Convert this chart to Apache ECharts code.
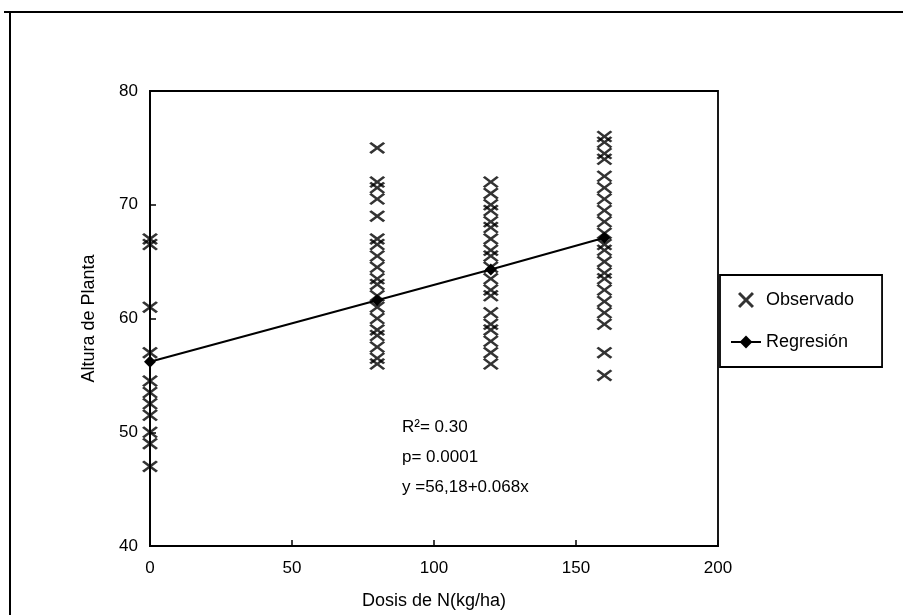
<!DOCTYPE html>
<html>
<head>
<meta charset="utf-8">
<script src="https://cdn.jsdelivr.net/npm/echarts@6/dist/echarts.min.js"></script>
<style>
html,body{margin:0;padding:0;background:#fff;}
#chart{width:903px;height:615px;}
</style>
</head>
<body>
<div id="chart"></div>
<script>
// ---- data ----
var doses = [0, 80, 120, 160];
var obs0   = [67, 66.5, 61, 57, 54.5, 53.5, 52.5, 51.5, 50, 49, 47];
var obs80  = [75, 72, 71.5, 70.5, 69, 67, 66.5, 65.5, 64.5, 63.5, 63, 62, 61, 60, 59, 58.5, 57.5, 56.5, 56];
var obs120 = [72, 71, 70, 69.5, 68.5, 68, 67, 66, 65.5, 64.5, 63.5, 62.5, 62, 60.5, 59.5, 59, 58, 57, 56];
var obs160 = [76, 75.5, 74.5, 74, 72.5, 71.5, 70.5, 69.5, 68.5, 67.5, 66.5, 66, 65, 64, 63.5, 62.5, 61.5, 60.5, 59.5, 57, 55];
var regValues = [56.2, 61.6, 64.3, 67.1];
var xTicks = [0, 50, 100, 150, 200];
var yTicks = [40, 50, 60, 70, 80];
var seriesNames = ['Observado', 'Regresión'];
var annotations = ['R²= 0.30', 'p= 0.0001', 'y =56,18+0.068x'];
var xTitle = 'Dosis de N(kg/ha)';
var yTitle = 'Altura de Planta';

// ---- build ----
var obsColumns = [obs0, obs80, obs120, obs160];
var obsData = [];
obsColumns.forEach(function (col, i) {
  col.forEach(function (v) { obsData.push([doses[i], v]); });
});
var regData = doses.map(function (d, i) { return [d, regValues[i]]; });

var FONT = 'Liberation Sans';
var xMark = 'path://M0,13 L13,0 L50,37 L87,0 L100,13 L63,50 L100,87 L87,100 L50,63 L13,100 L0,87 L37,50 Z';

var chart = echarts.init(document.getElementById('chart'), null, {renderer: 'canvas'});
chart.setOption({
  animation: false,
  backgroundColor: '#fff',
  grid: {
    left: 150, right: 185, top: 91, bottom: 68,
    show: true, borderColor: '#000', borderWidth: 1.8, backgroundColor: 'transparent'
  },
  xAxis: {
    type: 'value', min: xTicks[0], max: xTicks[xTicks.length - 1], interval: 50,
    name: xTitle, nameLocation: 'middle', nameGap: 46,
    nameTextStyle: {fontFamily: FONT, fontSize: 18, color: '#000'},
    axisLine: {show: true, lineStyle: {color: '#000', width: 1.8}},
    axisTick: {show: true, inside: true, length: 6, lineStyle: {color: '#000', width: 1.5}},
    axisLabel: {fontFamily: FONT, fontSize: 17, color: '#000', margin: 14},
    splitLine: {show: false}
  },
  yAxis: {
    type: 'value', min: yTicks[0], max: yTicks[yTicks.length - 1], interval: 10,
    name: yTitle, nameLocation: 'middle', nameGap: 52, nameRotate: 90,
    nameTextStyle: {fontFamily: FONT, fontSize: 18, color: '#000'},
    axisLine: {show: true, lineStyle: {color: '#000', width: 1.8}},
    axisTick: {show: true, inside: true, length: 6, lineStyle: {color: '#000', width: 1.5}},
    axisLabel: {fontFamily: FONT, fontSize: 17, color: '#000', margin: 12},
    splitLine: {show: false}
  },
  legend: {
    orient: 'vertical', left: 720, top: 275,
    padding: [16, 28, 16, 10], itemGap: 24, itemWidth: 30, itemHeight: 16,
    borderColor: '#000', borderWidth: 1.8, backgroundColor: '#fff',
    textStyle: {fontFamily: FONT, fontSize: 18, color: '#000'},
    data: seriesNames
  },
  series: [
    {
      name: seriesNames[0], type: 'scatter', data: obsData,
      symbol: xMark, symbolSize: [16, 12],
      itemStyle: {color: '#000'}, z: 2
    },
    {
      name: seriesNames[1], type: 'line', data: regData,
      symbol: 'diamond', symbolSize: 12, showSymbol: true,
      lineStyle: {color: '#000', width: 2},
      itemStyle: {color: '#000'}, z: 3
    }
  ],
  graphic: [
    {type: 'line', shape: {x1: 4, y1: 12, x2: 903, y2: 12}, style: {stroke: '#000', lineWidth: 2}},
    {type: 'line', shape: {x1: 10, y1: 12, x2: 10, y2: 615}, style: {stroke: '#000', lineWidth: 2}},
    {type: 'text', left: 402, top: 419, style: {text: annotations[0], font: '17px "Liberation Sans"', fill: '#000'}},
    {type: 'text', left: 402, top: 449, style: {text: annotations[1], font: '17px "Liberation Sans"', fill: '#000'}},
    {type: 'text', left: 402, top: 479, style: {text: annotations[2], font: '17px "Liberation Sans"', fill: '#000'}}
  ]
});
</script>
</body>
</html>
